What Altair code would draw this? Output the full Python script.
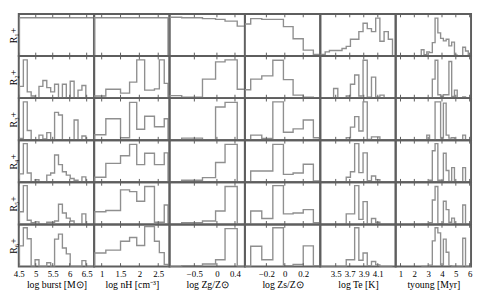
import altair as alt
import pandas as pd

# ---- axis setup per column ----
col_titles = ["log burst [M⊙]", "log nH [cm⁻³]", "log Zg/Z⊙", "log Zs/Z⊙", "log Te [K]", "tyoung [Myr]"]
col_domains = [[4.5, 6.72], [0.8, 2.8], [-1.05, 0.62], [-0.433, 0.385], [3.28, 4.355], [0.65, 6.1]]
col_ticks = [[4.5, 5, 5.5, 6, 6.5], [1, 1.5, 2, 2.5], [-0.5, 0, 0.4], [-0.2, 0, 0.2],
             [3.5, 3.7, 3.9, 4.1], [1, 2, 3, 4, 5, 6]]
row_labels = ["R₁+", "R₂+", "R₃+", "R₄+", "R₅+", "R₆+"]

# ---- bin edges per column ----
burst_edges = [4.52, 4.635, 4.75, 4.865, 4.98, 5.095, 5.21, 5.325, 5.44, 5.555, 5.67,
               5.785, 5.9, 6.015, 6.13, 6.245, 6.36, 6.475, 6.59, 6.705]
nh_edges = [0.81, 1.11, 1.5, 1.74, 1.93, 2.14, 2.4, 2.53, 2.66, 2.76]
zg_edges = [-1.04, -0.78, -0.32, -0.03, 0.18, 0.45, 0.62]
zs_edges = [-0.433, -0.37, -0.25, -0.13, -0.015, 0.09, 0.2, 0.31, 0.375]
te_edges = [3.29, 3.35, 3.41, 3.47, 3.53, 3.59, 3.65, 3.71, 3.77, 3.83, 3.89,
            3.95, 4.01, 4.07, 4.13, 4.19, 4.25, 4.31]
ty_edges = [2.5, 2.7, 2.9, 3.1, 3.3, 3.5, 3.7, 3.9, 4.1, 4.3, 4.5, 4.7, 4.9,
            5.1, 5.3, 5.5, 5.7, 5.9, 6.1]

# ---- relative histogram heights (fraction of panel height), rows R1..R6 ----
burst_rows = [
    [0.91, 0.91, 0.91, 0.91, 0.91, 0.91, 0.91, 0.91, 0.91, 0.91, 0.91, 0.91, 0.91, 0.91, 0.91, 0.91, 0.91, 0.91, 0.91],
    [0.28, 0.91, 0.15, 0.05, 0, 0.28, 0.42, 0.25, 0.15, 0.33, 0, 0.33, 0, 0.4, 0, 0.19, 0.3, 0, 0],
    [0.04, 0.91, 0.23, 0, 0, 0.12, 0.03, 0.18, 0, 0.66, 0.6, 0, 0, 0, 0.48, 0, 0.1, 0, 0],
    [0.2, 0.92, 0.22, 0, 0.06, 0, 0, 0.17, 0.22, 0.65, 0.42, 0.25, 0.17, 0.09, 0.05, 0, 0.13, 0, 0],
    [0.3, 0.92, 0.1, 0.04, 0.06, 0, 0, 0.05, 0.05, 0.08, 0.48, 0.27, 0.15, 0.08, 0, 0, 0.25, 0, 0],
    [0.49, 0.92, 0.66, 0, 0.16, 0, 0, 0.09, 0, 0.65, 0.77, 0.44, 0.3, 0, 0, 0, 0.14, 0, 0],
]
nh_rows = [
    [0.91, 0.91, 0.91, 0.91, 0.91, 0.91, 0.91, 0.91, 0.91],
    [0.05, 0.21, 0.12, 0.38, 0.91, 0.19, 0.22, 0.91, 0.35],
    [0.13, 0.51, 0.06, 0.9, 0.26, 0.57, 0.32, 0.32, 0.51],
    [0.12, 0.45, 0.63, 0.9, 0.42, 0.69, 0.42, 0.42, 0.7],
    [0.3, 0.33, 0.82, 0.78, 0.55, 0.9, 0.05, 0.05, 0.46],
    [0.32, 0.39, 0.6, 0.69, 0.5, 0.95, 0.6, 0.33, 0.05],
]
zg_rows = [
    [0.92, 0.91, 0.89, 0.87, 0.83, 0.71],
    [0.06, 0.02, 0.45, 0.86, 0.91, 0.21],
    [0, 0.05, 0, 0.79, 0.9, 0],
    [0, 0.05, 0.11, 0.47, 0.9, 0],
    [0, 0.04, 0.08, 0.32, 0.9, 0],
    [0, 0.02, 0.06, 0.16, 0.9, 0],
]
zs_rows = [
    [0.76, 0.89, 0.87, 0.87, 0.70, 0.41, 0.14, 0.04],
    [0.2, 0.45, 0.53, 0.9, 0.44, 0.07, 0.02, 0.01],
    [0, 0.12, 0.04, 0.91, 0.19, 0.27, 0.48, 0.06],
    [0, 0.27, 0.27, 0.9, 0.19, 0.22, 0.43, 0.03],
    [0, 0.32, 0.14, 0.92, 0.25, 0.27, 0.35, 0.04],
    [0, 0.48, 0.16, 0.92, 0.02, 0.05, 0.49, 0.02],
]
te_rows = [
    [0.04, 0.1, 0.13, 0.13, 0.13, 0.18, 0.23, 0.4, 0.4, 0.58, 0.78, 0.65, 0.58, 0.9, 0.35, 0.58, 0.4],
    [0, 0, 0, 0.23, 0, 0, 0.05, 0.33, 0.55, 0.05, 0.9, 0.02, 0.5, 0.02, 0.07, 0, 0],
    [0, 0, 0, 0, 0, 0, 0.06, 0.31, 0.56, 0.22, 0.91, 0.02, 0.08, 0.08, 0, 0, 0],
    [0, 0, 0, 0, 0, 0, 0.12, 0.25, 0.92, 0.23, 0.7, 0.04, 0.15, 0.06, 0, 0, 0],
    [0, 0, 0, 0, 0, 0, 0.25, 0.25, 0.92, 0.12, 0.54, 0, 0.14, 0.05, 0, 0, 0],
    [0, 0, 0, 0, 0, 0, 0.16, 0.16, 0.92, 0.15, 0.32, 0.02, 0.12, 0.04, 0, 0, 0],
]
ty_rows = [
    [0.15, 0.03, 0.1, 0.08, 0.32, 0.9, 0.55, 0.42, 0.36, 0.4, 0.24, 0.33, 0.02, 0.01, 0.01, 0.21, 0.12, 0],
    [0.01, 0.01, 0, 0, 0.45, 0.9, 0.08, 0.03, 0.08, 0.08, 0.87, 0.04, 0.19, 0, 0, 0.03, 0, 0],
    [0, 0, 0.12, 0, 0, 0.91, 0.91, 0.05, 0.88, 0.12, 0.05, 0.06, 0, 0, 0, 0.12, 0, 0],
    [0, 0, 0, 0.05, 0.75, 0.92, 0.05, 0.03, 0.69, 0.28, 0.02, 0.35, 0, 0, 0, 0.35, 0, 0],
    [0, 0, 0, 0.04, 0.58, 0.9, 0.02, 0.02, 0.55, 0.35, 0.05, 0.15, 0, 0, 0, 0.46, 0, 0],
    [0, 0, 0, 0.03, 0.61, 0.92, 0.8, 0.02, 0.65, 0.34, 0.02, 0, 0, 0, 0, 0.67, 0, 0],
]

all_edges = [burst_edges, nh_edges, zg_edges, zs_edges, te_edges, ty_edges]
all_rows = [burst_rows, nh_rows, zg_rows, zs_rows, te_rows, ty_rows]

FONT = "Liberation Serif"
PANEL_W = 77
PANEL_H = 43
LINE_COLOR = "#8f8f8f"
FRAME_COLOR = "#5e5e5e"


def step_table(edges, heights):
    xs = [edges[0]] + edges[:-1] + [edges[-1]]
    ys = [0] + list(heights) + [0]
    return pd.DataFrame({"x": xs, "y": ys, "i": list(range(len(xs)))})


panels = []
for r in range(6):
    for c in range(6):
        df = step_table(all_edges[c], all_rows[c][r])
        xscale = alt.Scale(domain=col_domains[c], nice=False, zero=False)
        yscale = alt.Scale(domain=[0, 1], nice=False)
        if r == 5:
            xaxis = alt.Axis(values=col_ticks[c], title=col_titles[c], grid=False, ticks=False,
                             domain=False, labelFlush=False, labelOverlap=False, format="~g",
                             labelFont=FONT, labelFontSize=9, labelColor="#000", labelPadding=3,
                             titleFont=FONT, titleFontSize=10, titleFontWeight="normal",
                             titleColor="#000", titlePadding=1)
        else:
            xaxis = None
        if c == 0:
            yaxis = alt.Axis(title=row_labels[r], labels=False, ticks=False, domain=False, grid=False,
                             titleFont=FONT, titleFontSize=10, titleFontWeight="normal",
                             titleColor="#000", titlePadding=0)
        else:
            yaxis = None
        hist = alt.Chart(df).mark_line(interpolate="step-after", color=LINE_COLOR, strokeWidth=1.4,
                                       clip=True).encode(
            x=alt.X("x:Q", scale=xscale, axis=xaxis),
            y=alt.Y("y:Q", scale=yscale, axis=yaxis),
            order="i:Q",
        )
        tdf = pd.DataFrame({"t": col_ticks[c]})
        tick_bot = alt.Chart(tdf).mark_rule(color=FRAME_COLOR, strokeWidth=1).encode(
            x=alt.X("t:Q", scale=xscale, axis=xaxis),
            y=alt.YDatum(0, scale=yscale, axis=yaxis),
            y2=alt.datum(0.08))
        tick_top = alt.Chart(tdf).mark_rule(color=FRAME_COLOR, strokeWidth=1).encode(
            x=alt.X("t:Q", scale=xscale, axis=xaxis),
            y=alt.YDatum(0.92, scale=yscale, axis=yaxis),
            y2=alt.datum(1))
        panels.append(alt.layer(hist, tick_bot, tick_top).properties(width=PANEL_W, height=PANEL_H))

chart = alt.concat(*panels, columns=6, spacing=0, bounds="flush").properties(
    padding={"left": 0, "top": 1, "right": 0, "bottom": 0}
).configure_view(stroke=FRAME_COLOR, strokeWidth=2).configure_concat(spacing=0)

chart.save("out.html", embed_options={"renderer": "svg", "actions": False})
